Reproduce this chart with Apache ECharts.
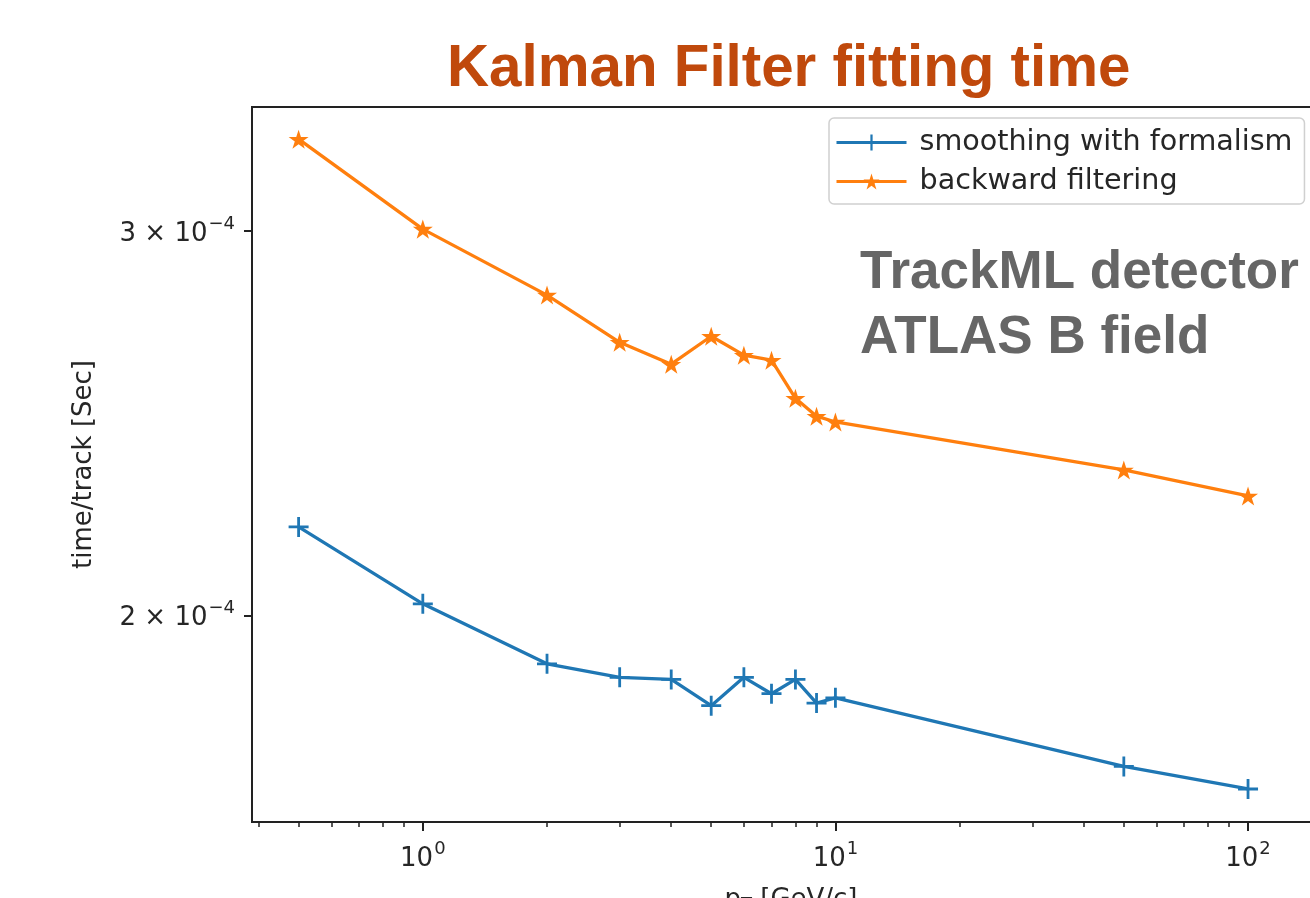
<!DOCTYPE html>
<html>
<head>
<meta charset="utf-8">
<script src="https://cdn.jsdelivr.net/npm/echarts@6/dist/echarts.min.js"></script>
<style>
html,body{margin:0;padding:0;background:#fff;}
#chart{width:1310px;height:898px;}
</style>
</head>
<body>
<div id="chart"></div>
<script>
// ---- data ----
const pT = [0.5, 1, 2, 3, 4, 5, 6, 7, 8, 9, 10, 50, 100];
const smoothing = [2.196e-4, 2.025e-4, 1.901e-4, 1.874e-4, 1.870e-4, 1.819e-4, 1.874e-4, 1.842e-4, 1.870e-4, 1.824e-4, 1.834e-4, 1.706e-4, 1.666e-4];
const backward = [3.305e-4, 3.006e-4, 2.804e-4, 2.668e-4, 2.607e-4, 2.685e-4, 2.632e-4, 2.618e-4, 2.515e-4, 2.468e-4, 2.453e-4, 2.332e-4, 2.269e-4];
const seriesNames = ['smoothing with formalism', 'backward filtering'];
const xMajorTicks = [1, 10, 100];
const xMajorLabels = ['{n|10}{s|0}', '{n|10}{s|1}', '{n|10}{s|2}'];
const xMinorTicks = [0.4, 0.5, 0.6, 0.7, 0.8, 0.9, 2, 3, 4, 5, 6, 7, 8, 9, 20, 30, 40, 50, 60, 70, 80, 90, 200];
const yTicks = [2e-4, 3e-4];
const yTickLabels = ['{n|2 × 10}{s|−4}', '{n|3 × 10}{s|−4}'];
const titleText = 'Kalman Filter fitting time';
const noteText = 'TrackML detector\nATLAS B field';

function pick(values, labels) {
  return function (v) {
    let best = 0, bd = Infinity;
    for (let i = 0; i < values.length; i++) {
      const d = Math.abs(Math.log(v) - Math.log(values[i]));
      if (d < bd) { bd = d; best = i; }
    }
    return bd < 0.01 ? labels[best] : '';
  };
}

const plusPath = 'path://M0,43 H100 V57 H0 Z M43,0 H57 V100 H43 Z';
const starPath = 'path://M50,0 L61.2,34.5 L97.6,34.5 L68.2,55.9 L79.4,90.5 L50,69.1 L20.6,90.5 L31.8,55.9 L2.4,34.5 L38.8,34.5 Z';

const xMin = 0.3855, xMax = 158;
const yMin = 1.609e-4, yMax = 3.419e-4;
const fontTick = 'DejaVu Sans';
const ink = '#262626';
const supRich = {
  n: {fontFamily: fontTick, fontSize: 26, color: ink, lineHeight: 32, verticalAlign: 'bottom'},
  s: {fontFamily: fontTick, fontSize: 18, color: ink, lineHeight: 18, verticalAlign: 'bottom', padding: [0, 0, 14, 1]}
};

const chart = echarts.init(document.getElementById('chart'), null, {renderer: 'canvas'});
chart.setOption({
  animation: false,
  backgroundColor: '#ffffff',
  title: [
    {
      text: titleText, left: 442, top: 36,
      textStyle: {fontFamily: 'Liberation Sans', fontWeight: 'bold', fontSize: 58.3, color: '#C0490C'}
    },
    {
      text: noteText, left: 855, top: 236,
      textStyle: {fontFamily: 'Liberation Sans', fontWeight: 'bold', fontSize: 53, lineHeight: 65, color: '#666666'}
    }
  ],
  grid: {
    left: 252, top: 107, bottom: 76, right: -20,
    outerBoundsMode: 'none', containLabel: false,
    show: true, borderColor: '#222', borderWidth: 2, backgroundColor: 'transparent'
  },
  legend: {
    left: 829, top: 118,
    orient: 'vertical',
    itemWidth: 70, itemHeight: 20, itemGap: 10,
    padding: [10, 12, 8, 6],
    borderColor: '#d0d0d0', borderWidth: 1.5, borderRadius: 5,
    backgroundColor: '#fff',
    lineStyle: {width: 3},
    textStyle: {fontFamily: fontTick, fontSize: 28.6, color: ink, padding: [0, 0, 0, 8]},
    data: seriesNames
  },
  xAxis: [
    {
      type: 'log', min: xMin, max: xMax, position: 'bottom',
      name: '{p|p}{t|T} [GeV/c]', nameLocation: 'middle', nameGap: 64,
      nameTextStyle: {
        fontFamily: fontTick, fontSize: 26, color: ink,
        rich: {p: {fontFamily: fontTick, fontSize: 26, color: ink}, t: {fontFamily: fontTick, fontSize: 18, color: ink, verticalAlign: 'bottom', padding: [10, 0, 0, 0]}}
      },
      axisLine: {show: true, lineStyle: {color: '#222', width: 2}},
      axisTick: {show: true, inside: false, length: 9, lineStyle: {color: '#222', width: 2}, customValues: xMajorTicks},
      axisLabel: {show: true, margin: 18, customValues: xMajorTicks, formatter: pick(xMajorTicks, xMajorLabels), rich: supRich},
      splitLine: {show: false},
      minorTick: {show: false}
    },
    {
      type: 'log', min: xMin, max: xMax, position: 'bottom', offset: 0,
      axisLine: {show: false},
      axisTick: {show: true, inside: false, length: 5, lineStyle: {color: '#222', width: 1.5}, customValues: xMinorTicks},
      axisLabel: {show: false},
      splitLine: {show: false}
    }
  ],
  yAxis: {
    type: 'log', min: yMin, max: yMax,
    name: 'time/track [Sec]', nameLocation: 'middle', nameGap: 155, nameRotate: 90,
    nameTextStyle: {fontFamily: fontTick, fontSize: 26, color: ink},
    axisLine: {show: true, lineStyle: {color: '#222', width: 2}},
    axisTick: {show: true, inside: false, length: 8, lineStyle: {color: '#222', width: 2}, customValues: yTicks},
    axisLabel: {show: true, margin: 17, customValues: yTicks, formatter: pick(yTicks, yTickLabels), rich: supRich},
    splitLine: {show: false},
    minorTick: {show: false}
  },
  series: [
    {
      name: seriesNames[0], type: 'line', xAxisIndex: 0,
      data: pT.map((x, i) => [x, smoothing[i]]),
      color: '#1f77b4',
      lineStyle: {width: 3.3, color: '#1f77b4'},
      symbol: plusPath, symbolSize: 20, showAllSymbol: true,
      itemStyle: {color: '#1f77b4'}
    },
    {
      name: seriesNames[1], type: 'line', xAxisIndex: 0,
      data: pT.map((x, i) => [x, backward[i]]),
      color: '#ff7f0e',
      lineStyle: {width: 3.3, color: '#ff7f0e'},
      symbol: starPath, symbolSize: 20, symbolKeepAspect: true, showAllSymbol: true,
      itemStyle: {color: '#ff7f0e'}
    }
  ]
});
</script>
</body>
</html>
